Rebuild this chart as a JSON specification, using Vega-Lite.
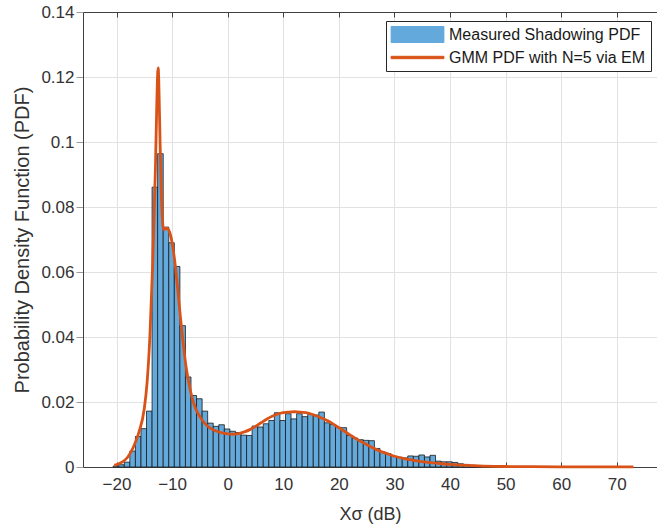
{
  "$schema": "https://vega.github.io/schema/vega-lite/v6.json",
  "width": 574,
  "height": 455,
  "autosize": "none",
  "padding": {"left": 83, "top": 12, "right": 0, "bottom": 64},
  "background": "white",
  "config": {"font": "Liberation Sans", "view": {"stroke": null}},
  "datasets": {
    "hist": [
      {"x0": -20.6, "x1": -19.6, "pdf": 0.0003},
      {"x0": -19.6, "x1": -18.6, "pdf": 0.0007},
      {"x0": -18.6, "x1": -17.6, "pdf": 0.0015},
      {"x0": -17.6, "x1": -16.6, "pdf": 0.0049},
      {"x0": -16.6, "x1": -15.6, "pdf": 0.0094},
      {"x0": -15.6, "x1": -14.6, "pdf": 0.0118},
      {"x0": -14.6, "x1": -13.6, "pdf": 0.0172},
      {"x0": -13.6, "x1": -12.6, "pdf": 0.0861},
      {"x0": -12.6, "x1": -11.6, "pdf": 0.0964},
      {"x0": -11.6, "x1": -10.6, "pdf": 0.0738},
      {"x0": -10.6, "x1": -9.6, "pdf": 0.069},
      {"x0": -9.6, "x1": -8.6, "pdf": 0.0617},
      {"x0": -8.6, "x1": -7.6, "pdf": 0.0435},
      {"x0": -7.6, "x1": -6.6, "pdf": 0.0277},
      {"x0": -6.6, "x1": -5.6, "pdf": 0.022},
      {"x0": -5.6, "x1": -4.6, "pdf": 0.021},
      {"x0": -4.6, "x1": -3.6, "pdf": 0.0172},
      {"x0": -3.6, "x1": -2.6, "pdf": 0.0135},
      {"x0": -2.6, "x1": -1.6, "pdf": 0.0125},
      {"x0": -1.6, "x1": -0.6, "pdf": 0.013},
      {"x0": -0.6, "x1": 0.4, "pdf": 0.0117},
      {"x0": 0.4, "x1": 1.4, "pdf": 0.011},
      {"x0": 1.4, "x1": 2.4, "pdf": 0.0106},
      {"x0": 2.4, "x1": 3.4, "pdf": 0.0098},
      {"x0": 3.4, "x1": 4.4, "pdf": 0.0097},
      {"x0": 4.4, "x1": 5.4, "pdf": 0.0126},
      {"x0": 5.4, "x1": 6.4, "pdf": 0.0123},
      {"x0": 6.4, "x1": 7.4, "pdf": 0.0133},
      {"x0": 7.4, "x1": 8.4, "pdf": 0.0143},
      {"x0": 8.4, "x1": 9.4, "pdf": 0.0167},
      {"x0": 9.4, "x1": 10.4, "pdf": 0.0143},
      {"x0": 10.4, "x1": 11.4, "pdf": 0.0164},
      {"x0": 11.4, "x1": 12.4, "pdf": 0.0148},
      {"x0": 12.4, "x1": 13.4, "pdf": 0.0164},
      {"x0": 13.4, "x1": 14.4, "pdf": 0.0155},
      {"x0": 14.4, "x1": 15.4, "pdf": 0.0162},
      {"x0": 15.4, "x1": 16.4, "pdf": 0.016},
      {"x0": 16.4, "x1": 17.4, "pdf": 0.0169},
      {"x0": 17.4, "x1": 18.4, "pdf": 0.0136},
      {"x0": 18.4, "x1": 19.4, "pdf": 0.0131},
      {"x0": 19.4, "x1": 20.4, "pdf": 0.0122},
      {"x0": 20.4, "x1": 21.4, "pdf": 0.0121},
      {"x0": 21.4, "x1": 22.4, "pdf": 0.0097},
      {"x0": 22.4, "x1": 23.4, "pdf": 0.0089},
      {"x0": 23.4, "x1": 24.4, "pdf": 0.0084},
      {"x0": 24.4, "x1": 25.4, "pdf": 0.0082},
      {"x0": 25.4, "x1": 26.4, "pdf": 0.0081},
      {"x0": 26.4, "x1": 27.4, "pdf": 0.0057},
      {"x0": 27.4, "x1": 28.4, "pdf": 0.0046},
      {"x0": 28.4, "x1": 29.4, "pdf": 0.0041},
      {"x0": 29.4, "x1": 30.4, "pdf": 0.0033},
      {"x0": 30.4, "x1": 31.4, "pdf": 0.003},
      {"x0": 31.4, "x1": 32.4, "pdf": 0.0028},
      {"x0": 32.4, "x1": 33.4, "pdf": 0.0034},
      {"x0": 33.4, "x1": 34.4, "pdf": 0.0033},
      {"x0": 34.4, "x1": 35.4, "pdf": 0.0037},
      {"x0": 35.4, "x1": 36.4, "pdf": 0.0031},
      {"x0": 36.4, "x1": 37.4, "pdf": 0.0036},
      {"x0": 37.4, "x1": 38.4, "pdf": 0.0018},
      {"x0": 38.4, "x1": 39.4, "pdf": 0.0016},
      {"x0": 39.4, "x1": 40.4, "pdf": 0.0016},
      {"x0": 40.4, "x1": 41.4, "pdf": 0.0014},
      {"x0": 41.4, "x1": 42.4, "pdf": 0.001},
      {"x0": 42.4, "x1": 43.4, "pdf": 0.0008},
      {"x0": 43.4, "x1": 44.4, "pdf": 0.0005},
      {"x0": 44.4, "x1": 45.4, "pdf": 0.0003},
      {"x0": 45.4, "x1": 46.4, "pdf": 0.0002},
      {"x0": 46.4, "x1": 47.4, "pdf": 0.0001}
    ],
    "gmm": [
      {"x": -20.4, "pdf": 0.0005},
      {"x": -19, "pdf": 0.0015},
      {"x": -18, "pdf": 0.003},
      {"x": -17, "pdf": 0.006},
      {"x": -16, "pdf": 0.0105},
      {"x": -15, "pdf": 0.018},
      {"x": -14.5, "pdf": 0.026},
      {"x": -14, "pdf": 0.04},
      {"x": -13.5, "pdf": 0.062},
      {"x": -13.2, "pdf": 0.08},
      {"x": -13, "pdf": 0.092},
      {"x": -12.8, "pdf": 0.108},
      {"x": -12.6, "pdf": 0.121},
      {"x": -12.5, "pdf": 0.1228},
      {"x": -12.4, "pdf": 0.119},
      {"x": -12.2, "pdf": 0.103},
      {"x": -12, "pdf": 0.088},
      {"x": -11.8, "pdf": 0.078},
      {"x": -11.5, "pdf": 0.073},
      {"x": -11, "pdf": 0.0735},
      {"x": -10.5, "pdf": 0.0725},
      {"x": -10, "pdf": 0.069},
      {"x": -9.5, "pdf": 0.063},
      {"x": -9, "pdf": 0.055},
      {"x": -8.5, "pdf": 0.046},
      {"x": -8, "pdf": 0.038},
      {"x": -7.5, "pdf": 0.031},
      {"x": -7, "pdf": 0.026},
      {"x": -6.5, "pdf": 0.022},
      {"x": -6, "pdf": 0.019},
      {"x": -5, "pdf": 0.0155},
      {"x": -4, "pdf": 0.0132},
      {"x": -3, "pdf": 0.0118},
      {"x": -2, "pdf": 0.011},
      {"x": -1, "pdf": 0.0105},
      {"x": 0, "pdf": 0.0102},
      {"x": 1, "pdf": 0.0101},
      {"x": 2, "pdf": 0.0103},
      {"x": 3, "pdf": 0.0108},
      {"x": 4, "pdf": 0.0115},
      {"x": 5, "pdf": 0.0125},
      {"x": 6, "pdf": 0.0136},
      {"x": 7, "pdf": 0.0147},
      {"x": 8, "pdf": 0.0156},
      {"x": 9, "pdf": 0.0163},
      {"x": 10, "pdf": 0.0167},
      {"x": 11, "pdf": 0.0169},
      {"x": 12, "pdf": 0.017},
      {"x": 13, "pdf": 0.0169},
      {"x": 14, "pdf": 0.0167},
      {"x": 15, "pdf": 0.0163},
      {"x": 16, "pdf": 0.0157},
      {"x": 17, "pdf": 0.015},
      {"x": 18, "pdf": 0.0142},
      {"x": 19, "pdf": 0.0132},
      {"x": 20, "pdf": 0.0121},
      {"x": 21, "pdf": 0.011},
      {"x": 22, "pdf": 0.0099},
      {"x": 23, "pdf": 0.0088},
      {"x": 24, "pdf": 0.0078},
      {"x": 25, "pdf": 0.0069},
      {"x": 26, "pdf": 0.006},
      {"x": 27, "pdf": 0.0052},
      {"x": 28, "pdf": 0.0045},
      {"x": 29, "pdf": 0.0039},
      {"x": 30, "pdf": 0.0033},
      {"x": 32, "pdf": 0.0025},
      {"x": 34, "pdf": 0.0019},
      {"x": 36, "pdf": 0.0014},
      {"x": 38, "pdf": 0.0011},
      {"x": 40, "pdf": 0.0008},
      {"x": 43, "pdf": 0.0005},
      {"x": 46, "pdf": 0.0003},
      {"x": 50, "pdf": 0.00015},
      {"x": 55, "pdf": 0.0001},
      {"x": 60, "pdf": 0.00005},
      {"x": 65, "pdf": 0.00003},
      {"x": 70, "pdf": 0.00002},
      {"x": 73, "pdf": 0.00001}
    ]
  },
  "layer": [
    {
      "data": {"name": "hist"},
      "mark": {"type": "rect", "stroke": "#1a1a1a", "strokeWidth": 0.8, "opacity": 1},
      "encoding": {
        "x": {
          "field": "x0", "type": "quantitative",
          "scale": {"domain": [-26.03, 77.24], "nice": false, "zero": false},
          "axis": {
            "orient": "bottom",
            "values": [-20, -10, 0, 10, 20, 30, 40, 50, 60, 70],
            "title": "Xσ (dB)",
            "grid": true, "gridColor": "#e2e2e2", "gridWidth": 1,
            "domainColor": "#404040", "domainWidth": 1,
            "tickColor": "#404040", "tickSize": -5,
            "labelFontSize": 17, "labelColor": "#333333", "labelPadding": 14,
            "labelFont": "Liberation Sans",
            "titleFontSize": 18, "titleFontWeight": "normal", "titleColor": "#333333",
            "titlePadding": 13, "titleFont": "Liberation Sans"
          }
        },
        "x2": {"field": "x1"},
        "y": {
          "field": "pdf", "type": "quantitative",
          "scale": {"domain": [0, 0.14], "nice": false, "zero": true},
          "axis": {
            "values": [0, 0.02, 0.04, 0.06, 0.08, 0.1, 0.12, 0.14],
            "labelExpr": "datum.value == 0 ? '0' : format(datum.value, '.2~f')",
            "title": "Probability Density Function (PDF)",
            "grid": true, "gridColor": "#e2e2e2", "gridWidth": 1,
            "domainColor": "#404040", "domainWidth": 1,
            "tickColor": "#9a9a9a", "tickSize": 7,
            "labelFontSize": 17, "labelColor": "#333333", "labelPadding": 2,
            "labelFont": "Liberation Sans",
            "titleFontSize": 20, "titleFontWeight": "normal", "titleColor": "#333333",
            "titlePadding": 8, "titleFont": "Liberation Sans"
          }
        },
        "color": {
          "datum": "Measured Shadowing PDF",
          "type": "nominal",
          "scale": {
            "domain": ["Measured Shadowing PDF", "GMM PDF with N=5 via EM"],
            "range": ["#63A9DB", "#D95319"]
          },
          "legend": {
            "title": null,
            "orient": "none",
            "legendX": 303,
            "legendY": 9,
            "padding": 5,
            "strokeColor": "#262626",
            "fillColor": "white",
            "labelFontSize": 16,
            "labelFont": "Liberation Sans",
            "labelColor": "#1a1a1a",
            "labelLimit": 400,
            "labelOffset": 23,
            "symbolSize": 256,
            "symbolOffset": 18,
            "symbolType": {"expr": "datum.value === 'GMM PDF with N=5 via EM' ? 'M-3.3,-0.15H3.3V0.15H-3.3Z' : 'M-3.3,-1H3.3V1H-3.3Z'"},
            "symbolFillColor": {"expr": "datum.value === 'GMM PDF with N=5 via EM' ? '#D95319' : '#63A9DB'"},
            "symbolStrokeColor": {"expr": "datum.value === 'GMM PDF with N=5 via EM' ? '#D95319' : '#1a1a1a'"},
            "symbolStrokeWidth": 1,
            "symbolOpacity": 1,
            "rowPadding": 4
          }
        }
      }
    },
    {
      "data": {"name": "gmm"},
      "mark": {"type": "line", "strokeWidth": 2.8, "interpolate": "monotone"},
      "encoding": {
        "x": {
          "field": "x", "type": "quantitative",
          "axis": {
            "orient": "top",
            "values": [-20, -10, 0, 10, 20, 30, 40, 50, 60, 70],
            "labels": false, "title": null, "grid": false,
            "domainColor": "#404040", "domainWidth": 1,
            "tickColor": "#404040", "tickSize": -5
          }
        },
        "y": {"field": "pdf", "type": "quantitative"},
        "color": {"datum": "GMM PDF with N=5 via EM", "type": "nominal"}
      }
    }
  ],
  "resolve": {"axis": {"x": "independent"}}
}
